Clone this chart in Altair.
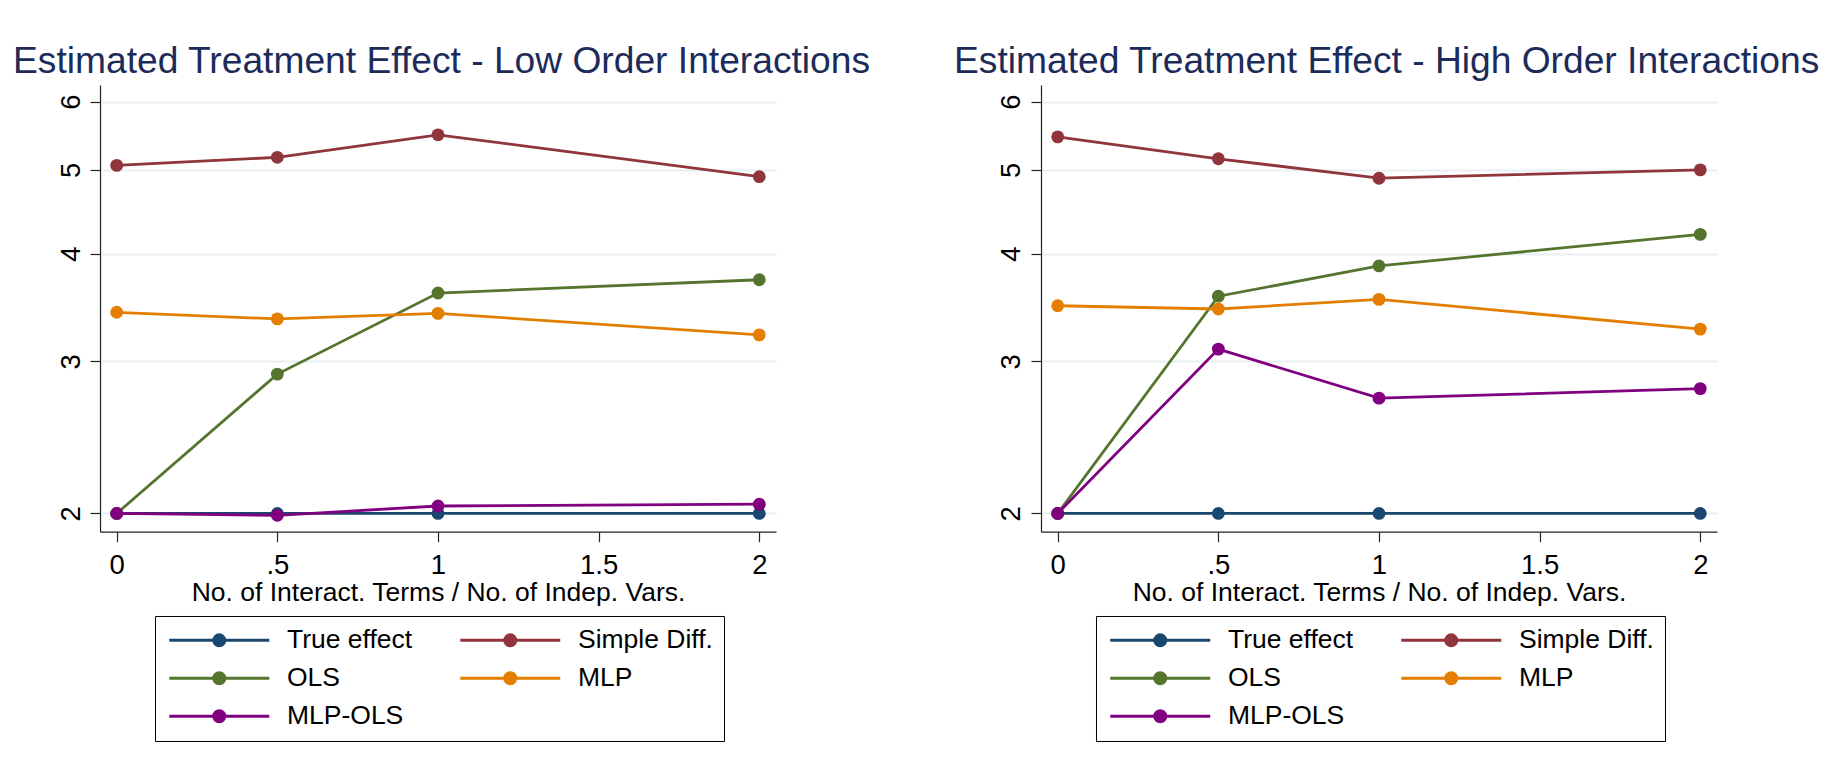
import altair as alt
import pandas as pd

# ---------------- data ----------------
x_vals = [0, 0.5, 1, 2]
series_names = ["True effect", "Simple Diff.", "OLS", "MLP", "MLP-OLS"]
series_colors = ["#1a476f", "#90353b", "#55752f", "#e37e00", "#800080"]

low_true = [2.0, 2.0, 2.0, 2.0]
low_simple = [5.06, 5.17, 5.49, 4.91]
low_ols = [2.0, 2.90, 3.60, 3.73]
low_mlp = [3.42, 3.36, 3.41, 3.22]
low_mlpols = [2.0, 1.99, 2.04, 2.05]

high_true = [2.0, 2.0, 2.0, 2.0]
high_simple = [5.46, 5.15, 4.89, 5.00]
high_ols = [2.0, 3.57, 3.87, 4.21]
high_mlp = [3.48, 3.45, 3.54, 3.27]
high_mlpols = [2.0, 3.10, 2.72, 2.79]

y_ticks = [2, 3, 4, 5, 6]
x_ticks = [0, 0.5, 1, 1.5, 2]

titles = ["Estimated Treatment Effect - Low Order Interactions",
          "Estimated Treatment Effect - High Order Interactions"]
x_title = "No. of Interact. Terms / No. of Indep. Vars."

FONT = "Liberation Sans"
TITLE_COLOR = "#1c2b5a"

# legend symbol: a line with a (ring-filled) dot in the middle, units of 10px
ring = lambda r: f"M{4 + r},0A{r},{r} 0 1,1 {4 - r},0A{r},{r} 0 1,1 {4 + r},0"
SYMBOL = "M-1,0L9,0" + "".join(ring(r) for r in [0.1, 0.22, 0.34, 0.46, 0.55])


def make_panel(title, vals_list):
    rows = []
    for name, vals in zip(series_names, vals_list):
        for xv, yv in zip(x_vals, vals):
            rows.append({"x": xv, "y": yv, "series": name})
    df = pd.DataFrame(rows)

    xenc = alt.X(
        "x:Q",
        scale=alt.Scale(domain=[-0.052, 2.052], nice=False, zero=False),
        axis=alt.Axis(
            values=x_ticks,
            labelExpr="datum.value == 0.5 ? '.5' : toString(datum.value)",
            title=x_title,
            grid=False,
            labelFontSize=27.5,
            labelPadding=10,
            labelColor="black",
            titleFontSize=26.5,
            titleFontWeight="normal",
            titleColor="black",
            titlePadding=0,
            tickSize=10,
            tickColor="#222222",
            tickWidth=1.2,
            domainColor="#222222",
            domainWidth=1.2,
            labelFont=FONT,
            titleFont=FONT,
        ),
    )
    yenc = alt.Y(
        "y:Q",
        scale=alt.Scale(type="log", domain=[1.905, 6.27], nice=False, zero=False),
        axis=alt.Axis(
            values=y_ticks,
            title=None,
            grid=True,
            gridColor="#e8f0f2",
            gridWidth=2,
            labelAngle=270,
            labelAlign="center",
            labelBaseline="alphabetic",
            labelPadding=11,
            labelFontSize=27.5,
            labelColor="black",
            tickSize=10,
            tickColor="#222222",
            tickWidth=1.2,
            domainColor="#222222",
            domainWidth=1.2,
            labelFont=FONT,
            format="d",
        ),
    )
    legend = alt.Legend(
        title=None,
        orient="none",
        direction="horizontal",
        legendX=55,
        legendY=531,
        columns=2,
        columnPadding=41,
        rowPadding=11,
        padding=11,
        strokeColor="black",
        fillColor="white",
        symbolType=SYMBOL,
        symbolSize=400,
        symbolStrokeWidth=3,
        labelFontSize=26.5,
        labelFont=FONT,
        labelColor="black",
        labelOffset=94.5,
        labelLimit=400,
    )
    color = alt.Color(
        "series:N",
        scale=alt.Scale(domain=series_names, range=series_colors),
        legend=legend,
    )
    layers = []
    for name, col in zip(series_names, series_colors):
        base = alt.Chart(df).transform_filter(alt.datum.series == name)
        line = base.mark_line(strokeWidth=2.8).encode(x=xenc, y=yenc, color=color)
        pts = base.mark_circle(size=165, opacity=1, color=col).encode(x=xenc, y=yenc)
        layers += [line, pts]
    return alt.layer(*layers).properties(
        width=676,
        height=446.7,
        title=alt.Title(
            title,
            anchor="start",
            frame="group",
            dx=-87,
            fontSize=37.2,
            font=FONT,
            fontWeight="normal",
            color=TITLE_COLOR,
            baseline="alphabetic",
            offset=-25,
        ),
    )


left = make_panel(titles[0], [low_true, low_simple, low_ols, low_mlp, low_mlpols])
right = make_panel(titles[1], [high_true, high_simple, high_ols, high_mlp, high_mlpols])

chart = (
    alt.hconcat(left, right, spacing=265, bounds="flush")
    .resolve_scale(color="independent")
    .resolve_legend(color="independent")
    .configure_view(stroke=None)
    .properties(padding={"left": 5, "top": 34, "right": 5, "bottom": 5}, background="white")
)

chart.save("out.html", embed_options={"renderer": "svg", "actions": False})
